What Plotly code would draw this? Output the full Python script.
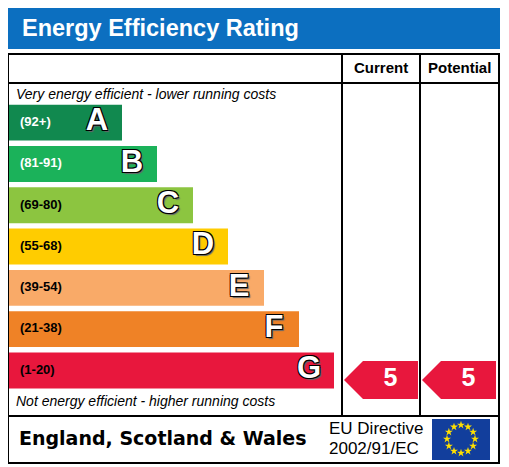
#!/usr/bin/env python3
"""Energy efficiency rating chart (EPC style) rebuilt with plotly."""

import math

import plotly.graph_objects as go

# --- data --------------------------------------------------------------
bands = ["A", "B", "C", "D", "E", "F", "G"]
band_ranges = ["(92+)", "(81-91)", "(69-80)", "(55-68)", "(39-54)", "(21-38)", "(1-20)"]
band_lower = [92, 81, 69, 55, 39, 21, 1]
bar_lengths = [113, 148, 184, 219, 255, 290, 325]
band_colors = ["#11894f", "#1bb25a", "#8cc540", "#ffcc00", "#f9aa68", "#ef8226", "#e8173d"]
range_text_colors = ["white", "white", "black", "black", "black", "black", "black"]
columns = ["Current", "Potential"]
ratings = [5, 5]

# --- layout (pixel geometry of the 509x467 picture) --------------------
# the page body keeps its default 8px margin, so the figure is drawn
# 8px in from the top-left corner and sized to fit the window
OFF = 8
W, H = 509, 467
FW, FH = W - OFF, H - OFF
BAR_LEFT = 9
ROW_TOP, ROW_PITCH = 102, 41.3
COL_SPANS = [(344, 418), (422, 496)]
ARROW_TIP = 19
RED = "#e8173d"
FONT = "Liberation Sans, Arial, sans-serif"


def px(x):
    return (x - OFF) / FW


def py(y):
    return 1 - (y - OFF) / FH


def to_v(ypix):
    # pixel row -> band units on the y axis
    return (ypix - ROW_TOP) / ROW_PITCH - 0.5


def band_of(rating):
    for i, low in enumerate(band_lower):
        if rating >= low:
            return i
    return len(bands) - 1


band_idx = list(range(len(bands)))
fig = go.Figure()

fig.add_trace(
    go.Bar(
        x=bar_lengths,
        y=band_idx,
        base=BAR_LEFT,
        orientation="h",
        width=0.87,
        marker=dict(color=band_colors, line_width=0),
        hoverinfo="skip",
    )
)

fig.add_trace(
    go.Scatter(
        x=[BAR_LEFT + 11] * len(bands),
        y=band_idx,
        mode="text",
        text=[f"<b>{r}</b>" for r in band_ranges],
        textposition="middle right",
        textfont=dict(family=FONT, size=13, color=range_text_colors),
        hoverinfo="skip",
    )
)

fig.add_trace(
    go.Scatter(
        x=[BAR_LEFT + length - 25 for length in bar_lengths],
        y=band_idx,
        mode="text",
        text=[f"<b>{b}</b>" for b in bands],
        textposition="middle center",
        textfont=dict(
            family=FONT,
            size=31,
            color="white",
            shadow="1px 1px 0 #000, -1px -1px 0 #000, 1px -1px 0 #000, -1px 1px 0 #000, 2px 2px 1px #666",
        ),
        hoverinfo="skip",
    )
)

# rating arrows
half = 19 / ROW_PITCH
for (x0, x1), rating in zip(COL_SPANS, ratings):
    c = band_of(rating) + 0.23
    fig.add_trace(
        go.Scatter(
            x=[x0, x0 + ARROW_TIP, x1, x1, x0 + ARROW_TIP, x0],
            y=[c, c - half, c - half, c + half, c + half, c],
            mode="lines",
            fill="toself",
            fillcolor=RED,
            line=dict(width=0, color=RED),
            hoverinfo="skip",
        )
    )
    fig.add_trace(
        go.Scatter(
            x=[(x0 + ARROW_TIP + x1) / 2],
            y=[c],
            mode="text",
            text=[f"<b>{rating}</b>"],
            textposition="middle center",
            textfont=dict(family=FONT, size=25, color="white"),
            hoverinfo="skip",
        )
    )

# EU flag stars
star_x = [461 + 14 * math.sin(2 * math.pi * k / 12) for k in range(12)]
star_y = [to_v(439 - 14 * math.cos(2 * math.pi * k / 12)) for k in range(12)]
fig.add_trace(
    go.Scatter(
        x=star_x,
        y=star_y,
        mode="markers",
        marker=dict(symbol="star", size=6, color="#ffe000", line_width=0),
        hoverinfo="skip",
    )
)

line = dict(color="black", width=2)
shapes = [
    dict(type="rect", x0=px(7), x1=px(500), y0=py(49), y1=py(8), fillcolor="#0c6fc0", line_width=0),
    dict(type="rect", x0=px(8), x1=px(499), y0=py(463), y1=py(54), line=line),
    dict(type="line", x0=px(8), x1=px(499), y0=py(83), y1=py(83), line=line),
    dict(type="line", x0=px(8), x1=px(499), y0=py(416), y1=py(416), line=line),
    dict(type="line", x0=px(342), x1=px(342), y0=py(54), y1=py(416), line=line),
    dict(type="line", x0=px(420), x1=px(420), y0=py(54), y1=py(416), line=line),
    dict(type="rect", x0=px(432), x1=px(490), y0=py(460), y1=py(419), fillcolor="#123e9c", line_width=0, layer="below"),
]
for s in shapes:
    s.setdefault("xref", "paper")
    s.setdefault("yref", "paper")


def label(text, x, y, size, anchor="left", **font):
    return dict(
        text=text, x=px(x), y=py(y), xref="paper", yref="paper",
        xanchor=anchor, yanchor="middle", showarrow=False,
        font=dict(family=font.pop("family", FONT), size=size, color=font.pop("color", "black")),
    )


annotations = [
    label("<b>Energy Efficiency Rating</b>", 20, 28, 23.5, color="white"),
    label(f"<b>{columns[0]}</b>", 381, 68, 15, anchor="center"),
    label(f"<b>{columns[1]}</b>", 459, 68, 15, anchor="center"),
    label("<i>Very energy efficient - lower running costs</i>", 14, 94, 14),
    label("<i>Not energy efficient - higher running costs</i>", 14, 401, 14),
    label("<b>England, Scotland &amp; Wales</b>", 17, 438, 19, family="DejaVu Sans"),
    label("EU Directive", 327, 428, 17),
    label("2002/91/EC", 327, 448, 17),
]

fig.update_layout(
    width=FW,
    height=FH,
    margin=dict(l=0, r=0, t=0, b=0),
    paper_bgcolor="white",
    plot_bgcolor="white",
    showlegend=False,
    shapes=shapes,
    annotations=annotations,
    xaxis=dict(range=[OFF, W], visible=False, fixedrange=True),
    yaxis=dict(range=[to_v(H), to_v(OFF)], visible=False, fixedrange=True),
)

fig.write_html("out.html")
